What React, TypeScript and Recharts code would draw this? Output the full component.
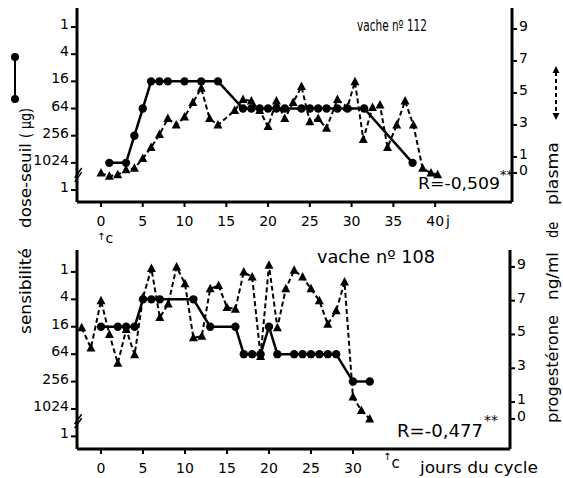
import React from 'react';
import { ComposedChart, Line, XAxis, YAxis, ReferenceLine } from 'recharts';

const FONT = '"DejaVu Sans", "Liberation Sans", sans-serif';

// vache n° 112 : dose-seuil (µg) et progestérone (ng/ml)
const dose112Days = [1, 3, 4, 5, 6, 7, 8, 10, 12, 14, 17, 18, 19, 20, 21, 22, 24, 25, 26, 27, 28.3, 29.5, 31.5, 37.3];
const dose112 = [1024, 1024, 256, 64, 16, 16, 16, 16, 16, 16, 64, 64, 64, 64, 64, 64, 64, 64, 64, 64, 64, 64, 64, 1024];
const prog112Days = [0, 1, 2, 3, 4, 5, 6, 7, 8, 9, 10, 11, 12, 13, 14, 16, 17, 18, 19, 20, 21, 22, 23, 24, 25, 26, 27, 28.3, 29.5, 30.4, 31.4, 32.5, 33.4, 34.3, 35.4, 36.4, 37.4, 38.5, 39.5, 40.3];
const prog112 = [0, -0.2, -0.1, 0.2, 0.3, 0.9, 1.6, 2.4, 3.4, 3.0, 3.5, 4.4, 5.3, 3.4, 3.0, 3.9, 4.6, 4.5, 3.9, 2.9, 4.5, 3.4, 4.4, 5.4, 3.2, 3.4, 2.8, 4.6, 4.1, 5.7, 2.1, 4.1, 4.25, 1.6, 3.0, 4.5, 3.0, 0.3, 0, -0.1];

// vache n° 108
const dose108Days = [0, 2, 3, 4, 5, 6, 7, 11, 13, 16, 17, 18, 19, 20, 21, 23, 24, 25, 26, 27, 28, 30, 32];
const dose108 = [16, 16, 16, 16, 4, 4, 4, 4, 16, 16, 64, 64, 64, 16, 64, 64, 64, 64, 64, 64, 64, 256, 256];
const prog108Days = [-2.3, -1.2, 0, 1, 2, 3, 4, 5, 6, 7, 8, 9, 10, 11, 12, 13, 14, 15, 16, 17, 18, 19, 20, 21, 22, 23, 24, 25, 26, 27, 28, 29, 30, 31, 32];
const prog108 = [5.4, 4.2, 7.0, 5.0, 3.3, 5.3, 3.8, 7.2, 8.9, 6.0, 6.8, 9.0, 8.0, 4.8, 4.9, 7.7, 7.9, 6.6, 6.5, 8.7, 8.4, 3.7, 9.1, 5.4, 7.7, 8.8, 8.4, 7.7, 7.0, 5.6, 6.4, 8.1, 1.3, 0.5, 0.0];

// axes
const doseTickLabels = ['1', '1024', '256', '64', '16', '4', '1'];
const doseTicks = [0, 1, 2, 3, 4, 5, 6];
const progTicks = [0, 1, 3, 5, 7, 9];
const xTicks112 = [0, 5, 10, 15, 20, 25, 30, 35, 40];
const xTicks108 = [0, 5, 10, 15, 20, 25, 30];

// 1 µg en haut, 1024 µg en bas (échelle en puissances de 4)
const doseIndex = (d: number) => 6 - Math.log(d) / Math.log(4);

const TriDot = (p: any) => {
  const { cx, cy, index } = p;
  if (cx == null || cy == null) return <g key={index} />;
  return <path key={index} d={`M${cx},${cy - 5} L${cx + 4.5},${cy + 3.5} L${cx - 4.5},${cy + 3.5} Z`} fill="#000" />;
};

const CircleDot = (p: any) => {
  const { cx, cy, index } = p;
  if (cx == null || cy == null) return <g key={index} />;
  return <circle key={index} cx={cx} cy={cy} r={4.2} fill="#000" />;
};

const LeftTick = (p: any) => (
  <text x={p.x} y={p.y + 2} textAnchor="end" fontSize={14} fontFamily={FONT} fill="#000">
    {doseTickLabels[p.payload.value]}
  </text>
);

const RightTick = (p: any) => (
  <text x={p.x} y={p.y + 2} textAnchor="start" fontSize={14} fontFamily={FONT} fill="#000">
    {p.payload.value}
  </text>
);

const BottomTick = (p: any) => (
  <text x={p.x} y={p.y + 17} textAnchor="middle" fontSize={14} fontFamily={FONT} fill="#000">
    {p.payload.value}
  </text>
);

type PanelProps = {
  doseDays: number[];
  doses: number[];
  progDays: number[];
  progs: number[];
  xTicks: number[];
  xDomain: [number, number];
  doseDomain: [number, number];
  progDomain: [number, number];
  height: number;
  margin: { top: number; right: number; bottom: number; left: number };
  xHeight: number;
};

function Panel(props: PanelProps) {
  const doseData = props.doseDays.map((d, i) => ({ x: d, y: doseIndex(props.doses[i]) }));
  const progData = props.progDays.map((d, i) => ({ x: d, y: props.progs[i] }));
  const axisLine = { stroke: '#000', strokeWidth: 3 };
  const tickLine = { stroke: '#000', strokeWidth: 2 };
  return (
    <ComposedChart width={563} height={props.height} margin={props.margin}>
      <XAxis
        type="number"
        dataKey="x"
        domain={props.xDomain}
        allowDataOverflow
        ticks={props.xTicks}
        tick={<BottomTick />}
        tickSize={5}
        height={props.xHeight}
        axisLine={axisLine}
        tickLine={tickLine}
        interval={0}
      />
      <YAxis
        yAxisId="dose"
        type="number"
        domain={props.doseDomain}
        allowDataOverflow
        ticks={doseTicks}
        tick={<LeftTick />}
        tickSize={6}
        width={45}
        axisLine={axisLine}
        tickLine={tickLine}
        interval={0}
      />
      <YAxis
        yAxisId="prog"
        orientation="right"
        type="number"
        domain={props.progDomain}
        allowDataOverflow
        ticks={progTicks}
        tick={<RightTick />}
        tickSize={5}
        width={30}
        axisLine={axisLine}
        tickLine={tickLine}
        interval={0}
      />
      <ReferenceLine
        yAxisId="dose"
        segment={[{ x: -3.15, y: 0.3 }, { x: -2.3, y: 0.66 }]}
        stroke="#000"
        strokeWidth={1.5}
        ifOverflow="visible"
      />
      <ReferenceLine
        yAxisId="dose"
        segment={[{ x: -3.15, y: 0.45 }, { x: -2.3, y: 0.81 }]}
        stroke="#000"
        strokeWidth={1.5}
        ifOverflow="visible"
      />
      <Line
        yAxisId="prog"
        data={progData}
        dataKey="y"
        type="linear"
        stroke="#000"
        strokeWidth={2}
        strokeDasharray="5 3"
        dot={(p: any) => <TriDot key={p.index} {...p} />}
        isAnimationActive={false}
      />
      <Line
        yAxisId="dose"
        data={doseData}
        dataKey="y"
        type="linear"
        stroke="#000"
        strokeWidth={2.5}
        dot={(p: any) => <CircleDot key={p.index} {...p} />}
        isAnimationActive={false}
      />
    </ComposedChart>
  );
}

function Overlay() {
  const t = { fontFamily: FONT, fill: '#000' };
  const vtext = (s: string, xc: number, yBottom: number, yTop: number, size: number) => (
    <text
      x={xc}
      y={yBottom}
      transform={`rotate(-90 ${xc} ${yBottom})`}
      dominantBaseline="central"
      textLength={yBottom - yTop}
      lengthAdjust="spacingAndGlyphs"
      fontSize={size}
      {...t}
    >
      {s}
    </text>
  );
  return (
    <svg width={563} height={478} style={{ position: 'absolute', left: 0, top: 0, pointerEvents: 'none' }}>
      {/* panneau du haut */}
      <text x={357} y={31} fontSize={15} textLength={70} lengthAdjust="spacingAndGlyphs" {...t}>vache nº 112</text>
      <text x={418} y={189} fontSize={16} textLength={82} lengthAdjust="spacingAndGlyphs" {...t}>R=-0,509</text>
      <text x={500} y={179} fontSize={13} {...t}>**</text>
      <text x={446} y={226} fontSize={14} {...t}>j</text>
      <text x={97} y={243} fontSize={14} {...t}>
        <tspan fontSize={10} dy={-3}>↑</tspan>
        <tspan dy={3}>c</tspan>
      </text>

      {/* panneau du bas */}
      <text x={317} y={263} fontSize={17} textLength={118} lengthAdjust="spacingAndGlyphs" {...t}>vache nº 108</text>
      <text x={397} y={437} fontSize={17} textLength={86} lengthAdjust="spacingAndGlyphs" {...t}>R=-0,477</text>
      <text x={484} y={425} fontSize={14} {...t}>**</text>
      <text x={383} y={468} fontSize={15} {...t}>
        <tspan fontSize={10} dy={-8}>↑</tspan>
        <tspan dy={8}>c</tspan>
      </text>
      <text x={420} y={473} fontSize={16} textLength={118} lengthAdjust="spacingAndGlyphs" {...t}>jours du cycle</text>

      {/* titres des axes */}
      {vtext('sensibilité', 25, 334, 248, 16)}
      {vtext('dose-seuil', 25, 228, 143, 16)}
      {vtext('( µg)', 25, 138, 108, 16)}
      {vtext('progestérone', 552, 423, 315, 16)}
      {vtext('ng/ml', 552, 300, 252, 16)}
      {vtext('de', 552, 238, 222, 16)}
      {vtext('plasma', 552, 205, 142, 16)}

      {/* légendes */}
      <line x1={15} y1={57} x2={15} y2={99} stroke="#000" strokeWidth={2} />
      <circle cx={15} cy={57} r={4} fill="#000" />
      <circle cx={15} cy={99} r={4} fill="#000" />
      <line x1={556} y1={72} x2={556} y2={114} stroke="#000" strokeWidth={2} strokeDasharray="4 3" />
      <path d="M556,66 L559.5,73 L552.5,73 Z" fill="#000" />
      <path d="M556,120 L559.5,113 L552.5,113 Z" fill="#000" />
    </svg>
  );
}

export default function App() {
  return (
    <div style={{ position: 'absolute', left: 0, top: 0, width: 563, height: 478, background: '#fff', fontFamily: FONT }}>
      <div style={{ position: 'absolute', left: 0, top: 0 }}>
        <Panel
          doseDays={dose112Days}
          doses={dose112}
          progDays={prog112Days}
          progs={prog112}
          xTicks={xTicks112}
          xDomain={[-2.87, 49.2]}
          doseDomain={[-0.44, 6.7]}
          progDomain={[-1.81, 10.31]}
          height={240}
          margin={{ top: 8, right: 21, bottom: 8, left: 32 }}
          xHeight={30}
        />
      </div>
      <div style={{ position: 'absolute', left: 0, top: 240 }}>
        <Panel
          doseDays={dose108Days}
          doses={dose108}
          progDays={prog108Days}
          progs={prog108}
          xTicks={xTicks108}
          xDomain={[-2.86, 48.7]}
          doseDomain={[-0.46, 6.8]}
          progDomain={[-1.78, 10.0]}
          height={238}
          margin={{ top: 10, right: 23, bottom: 0, left: 32 }}
          xHeight={29}
        />
      </div>
      <Overlay />
    </div>
  );
}
